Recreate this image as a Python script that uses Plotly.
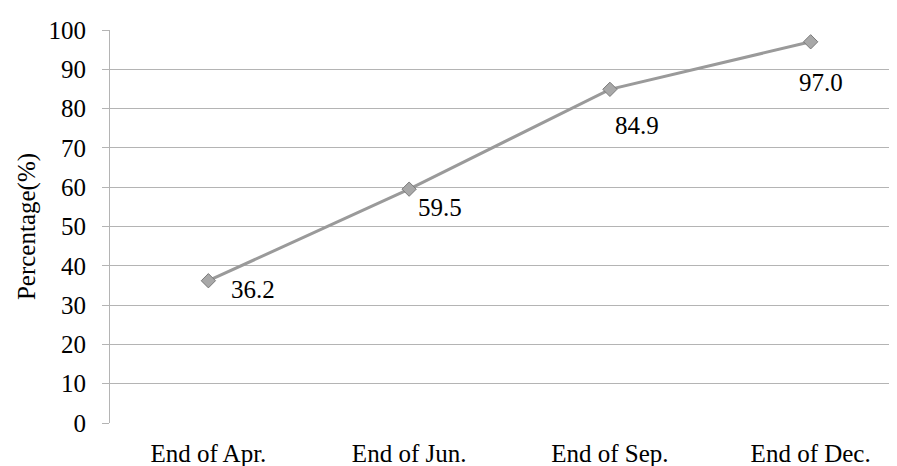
import plotly.graph_objects as go

categories = ["End of Apr.", "End of Jun.", "End of Sep.", "End of Dec."]
values = [36.2, 59.5, 84.9, 97.0]
y_ticks = [0, 10, 20, 30, 40, 50, 60, 70, 80, 90, 100]
label_shifts = [(45, -9), (31, -18), (27, -36), (10, -41)]

FONT = "Times New Roman, Liberation Serif, serif"

fig = go.Figure()
fig.add_trace(go.Scatter(
    x=categories, y=values, mode="lines+markers",
    line=dict(color="#9a9a9a", width=3),
    marker=dict(symbol="diamond", size=11, color="#a8a8a8",
                line=dict(color="#7a7a7a", width=1)),
    showlegend=False,
))

for c, v, (dx, dy) in zip(categories, values, label_shifts):
    fig.add_annotation(x=c, y=v, text=f"{v:.1f}", showarrow=False,
                       xshift=dx, yshift=dy,
                       font=dict(family=FONT, size=25, color="black"))

fig.add_annotation(xref="paper", yref="paper", x=-0.106, y=0.5,
                   text="Percentage(%)", textangle=-90, showarrow=False,
                   xanchor="center", yanchor="middle",
                   font=dict(family=FONT, size=25, color="black"))

fig.update_layout(
    width=889, height=458,
    margin=dict(l=102, r=0, t=22, b=43),
    plot_bgcolor="white", paper_bgcolor="white",
    font=dict(family=FONT, size=25, color="black"),
)
fig.update_xaxes(
    type="category", range=[-0.49, 3.43],
    showgrid=False, showline=False, zeroline=False,
    ticks="", ticklabelstandoff=13,
    tickfont=dict(family=FONT, size=25, color="black"),
)
fig.update_yaxes(
    range=[0, 100], tickvals=y_ticks,
    showgrid=True, gridcolor="#b4b4b4", gridwidth=1,
    showline=True, linecolor="#b4b4b4", linewidth=1,
    zeroline=False,
    ticks="outside", ticklen=7, tickcolor="#b4b4b4",
    ticklabelstandoff=11,
    tickfont=dict(family=FONT, size=25, color="black"),
)

fig.write_html("out.html")
